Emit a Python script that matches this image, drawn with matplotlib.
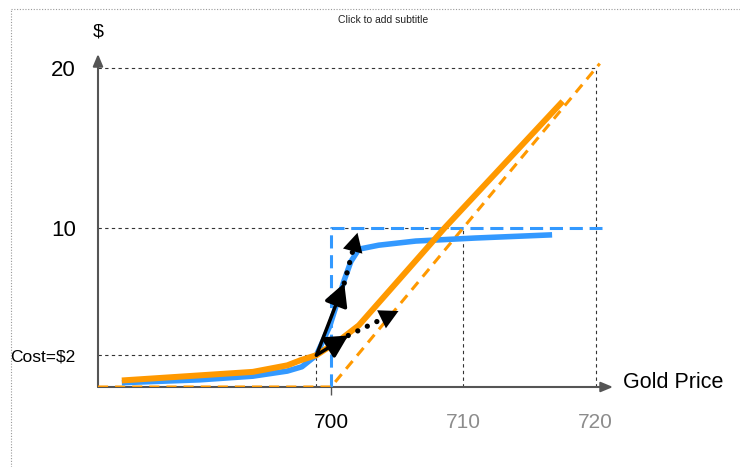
import matplotlib
matplotlib.use("Agg")
import matplotlib.pyplot as plt
from matplotlib.lines import Line2D

plt.rcParams['font.family'] = ['Liberation Sans', 'DejaVu Sans']

# ---- data -------------------------------------------------------------
strike = 700
digital_payout = 10
spot = 698.9
cost = 2

# value of the digital (binary) call before expiry
digital_x = [684.2, 690.1, 694.1, 696.7, 697.8, 698.9, 699.9, 701.0, 701.5,
             702.1, 703.6, 706.4, 710.9, 716.7]
digital_y = [0.27, 0.45, 0.68, 1.00, 1.27, 2.00, 3.81, 6.71, 7.87,
             8.65, 8.90, 9.16, 9.35, 9.55]

# value of the vanilla call before expiry
call_x = [684.2, 694.1, 696.7, 697.7, 698.9, 700.7, 702.1, 708.6, 717.5]
call_y = [0.41, 0.95, 1.36, 1.68, 2.00, 2.97, 3.87, 10.0, 17.93]

# payoffs at expiry
call_payoff_x = [682.4, 700, 720.3]
call_payoff_y = [0, 0, 20.3]
digital_payoff_x = [700, 700, 720.5]
digital_payoff_y = [0, 10, 10]

# delta arrows: start, end of the solid part, tip of the dotted part
digital_arrow = [(698.9, 2.0), (701.0, 6.52), (702.0, 9.68)]
call_arrow = [(698.9, 2.0), (701.3, 3.23), (705.1, 4.77)]

x_ticks = [700, 710, 720]
x_tick_labels = ["700", "710", "720"]
y_ticks = [2, 10, 20]
y_tick_labels = ["Cost=$2", "10", "20"]

# ---- figure -----------------------------------------------------------
W, H = 740, 467
fig = plt.figure(figsize=(W / 100, H / 100), dpi=100)
ax = fig.add_axes([98 / W, (H - 387) / H, (613 - 98) / W, (387 - 54) / H])
ax.set_xlim(682.4, 721.3)
ax.set_ylim(0, 20.9)
for s in ax.spines.values():
    s.set_visible(False)

orange = "#FF9900"
blue = "#3399FF"
guide = dict(color="#333333", lw=0.8, linestyle=(0, (3, 3)), zorder=1)

x0 = ax.get_xlim()[0]
# reference guides
ax.plot([x0, 720], [20, 20], **guide)
ax.plot([720, 720], [0, 20], **guide)
ax.plot([x0, 710], [10, 10], **guide)
ax.plot([710, 710], [0, 10], **guide)
ax.plot([x0, spot], [cost, cost], **guide)
ax.plot([spot, spot], [0, cost], **guide)

# axes with arrowheads
for end in [(1, 0), (0, 1)]:
    ax.annotate("", xy=end, xytext=(0, 0), xycoords="axes fraction",
                arrowprops=dict(arrowstyle="-|>,head_length=0.6,head_width=0.25",
                                color="#555555", lw=1.5, shrinkA=0, shrinkB=0,
                                mutation_scale=12), zorder=2)

# payoffs at expiry (dashed)
ax.plot(digital_payoff_x, digital_payoff_y, color=blue, lw=2.2,
        dashes=(4.3, 2.2), zorder=3, solid_capstyle="butt")
ax.plot(call_payoff_x, call_payoff_y, color=orange, lw=2.2,
        dashes=(3.3, 2.3), zorder=4)

# values before expiry
ax.plot(digital_x, digital_y, color=blue, lw=4.0, zorder=5,
        solid_joinstyle="round", solid_capstyle="butt")
ax.plot(call_x, call_y, color=orange, lw=4.3, zorder=6,
        solid_joinstyle="round", solid_capstyle="butt")

# delta arrows
head = "-|>,head_length=0.85,head_width=0.45"
for start, mid, tip in (digital_arrow, call_arrow):
    ax.annotate("", xy=mid, xytext=start,
                arrowprops=dict(arrowstyle=head, color="black", lw=2.5,
                                shrinkA=0, shrinkB=0, mutation_scale=16),
                zorder=8)
    ax.plot([mid[0], tip[0] - 0.2 * (tip[0] - mid[0])],
            [mid[1], tip[1] - 0.2 * (tip[1] - mid[1])],
            color="black", lw=3.8, dashes=(0.01, 2.0),
            dash_capstyle="round", zorder=8)
    ax.annotate("", xy=tip, xytext=mid,
                arrowprops=dict(arrowstyle=head, color="black", lw=0.01,
                                shrinkA=0, shrinkB=0, mutation_scale=16),
                zorder=8)

# ticks and labels
ax.set_xticks(x_ticks)
ax.set_xticklabels(x_tick_labels, fontsize=15)
ax.tick_params(axis="x", length=6, width=1, color="#555555", pad=13)
for i, t in enumerate(ax.xaxis.get_major_ticks()):
    if i > 0:
        t.tick1line.set_visible(False)
        t.label1.set_color("#8C8C8C")

ax.set_yticks(y_ticks)
ax.set_yticklabels(y_tick_labels)
ax.tick_params(axis="y", length=0, pad=16)
for t, fs in zip(ax.yaxis.get_major_ticks(), [12.5, 16, 16]):
    t.label1.set_fontsize(fs)

fig.text(98 / W, 1 - 32 / H, "$", fontsize=14, ha="center", va="center")
fig.text(623 / W, 1 - 383 / H, "Gold Price", fontsize=15.5, ha="left",
         va="center")
fig.text(383 / W, 1 - 20 / H, "Click to add subtitle", fontsize=7.5,
         ha="center", va="center", color="#222222")

# slide placeholder border
fig.add_artist(Line2D([11 / W, 1], [1 - 9 / H, 1 - 9 / H], color="#999999",
                      lw=0.8, linestyle=(0, (1, 1.5))))
fig.add_artist(Line2D([11 / W, 11 / W], [0, 1 - 9 / H], color="#999999",
                      lw=0.8, linestyle=(0, (1, 1.5))))

fig.savefig("out.png", dpi=100)
